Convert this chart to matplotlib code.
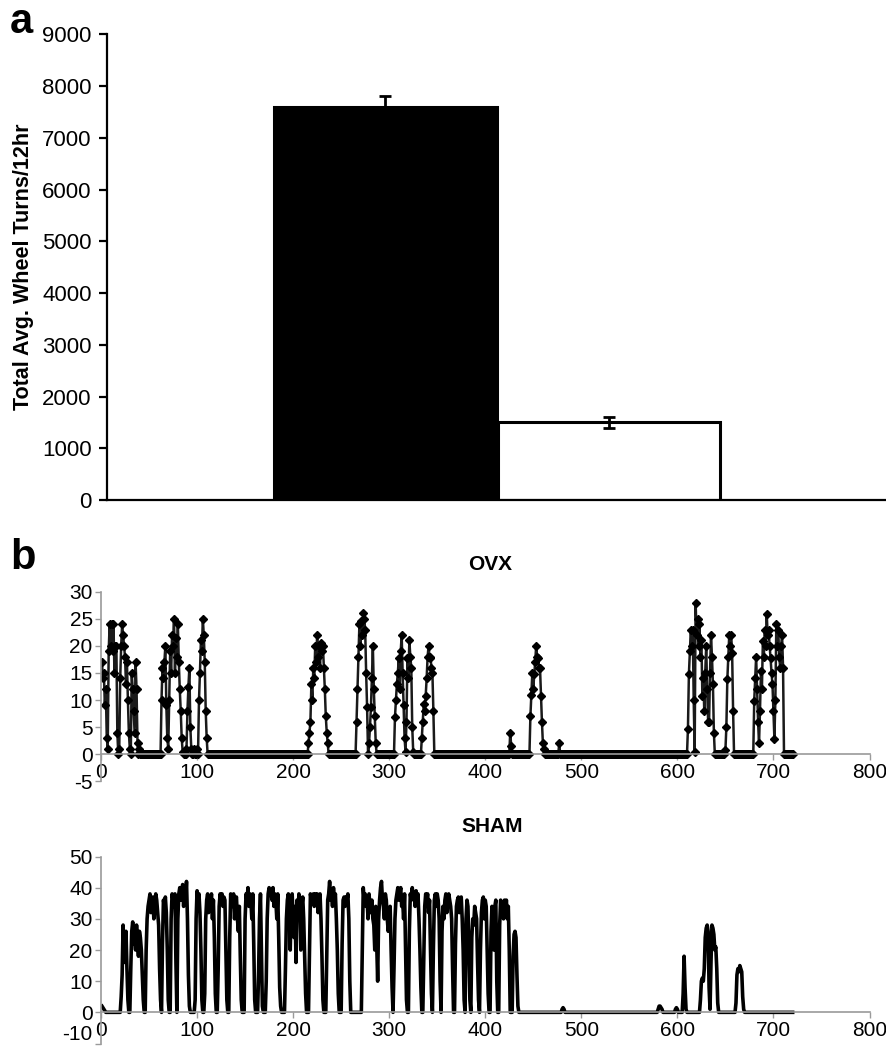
import matplotlib.pyplot as plt
import numpy as np

plt.rcParams['font.family'] = ['Liberation Sans', 'DejaVu Sans']
plt.rcParams['axes.unicode_minus'] = False

# ---- panel a: total wheel turns ----
groups = ['OVX', 'SHAM']
turns_mean = [7600, 1500]
turns_err = [210, 110]
bar_colors = ['black', 'white']

# ---- panel b: minute-by-minute wheel turns over 12 hr ----
minutes = np.arange(1, 721)

# OVX: active bursts (start minute, values per minute); all other minutes are 0
ovx_starts = [1, 63, 216, 265, 306, 334, 426, 447, 477, 611, 650, 680]
ovx_bursts = [
    [17, 14, 15, 9, 12, 3, 1, 19, 24, 20, 24, 19, 24, 15, 20, 20, 4, 0, 1, 14,
     20, 24, 22, 20, 18, 13, 17, 10, 4, 1, 0, 15, 12, 8, 4, 17, 12, 2, 0, 1],
    [10, 16, 14, 17, 20, 9, 3, 1, 10, 19, 15, 22, 20, 25, 15, 21.5, 18, 24, 17, 12,
     8, 3, 0.5, 0, 0, 0, 1, 8, 12.5, 16, 5, 1, 0, 0, 1, 0, 0, 1, 0, 10,
     15, 21, 19, 25, 22, 17, 8, 3],
    [2, 4, 6, 13, 10, 16, 14, 20, 17, 22, 18, 20, 16, 20.5, 19, 20, 16, 12, 7, 4, 2],
    [0, 6, 12, 18, 24, 20, 24.5, 22, 26, 25, 23, 15, 8.7, 0, 2, 5, 8.7, 14, 20, 12, 7, 2],
    [6.8, 10, 13, 15, 17.8, 12, 19, 22, 15, 9, 3, 0.5, 6, 17.8, 14, 21, 18, 16, 5, 0.5],
    [3, 6, 9.3, 8, 10.8, 14, 18, 20, 18, 17.8, 16, 15, 8],
    [4, 1.6],
    [7, 11, 15, 12, 14.8, 17, 20, 18, 17.8, 16, 16, 10.8, 6, 2, 1],
    [2],
    [4.7, 14.8, 19, 23, 20, 23, 10, 0.4, 28, 22, 25, 20, 24, 18, 21, 10.8, 14, 8, 15, 20,
     12, 6, 6, 15, 22, 18, 13, 4],
    [0.7, 5, 13.8, 18, 22, 20, 22, 18.7, 8],
    [9.9, 14, 18, 12, 6, 2, 8, 15.4, 12, 20.9, 18, 23, 20, 25.9, 22, 23, 20, 17.8, 15, 12.9,
     8, 2.9, 10, 24, 20, 23, 18, 16, 20, 22, 16],
]

# SHAM: active bursts (start minute, values per minute); all other minutes are 0
sham_starts = [1, 21, 31, 47, 64, 73, 80, 98, 108, 122, 134, 150, 164, 172, 192, 217,
               235, 251, 272, 289, 305, 321, 336, 346, 355, 369, 380, 386, 395, 406,
               415, 429, 480, 580, 598, 606, 624, 661]
sham_bursts = [
    [2, 1.5, 1, 0.5],
    [5, 12, 28, 16, 22, 26, 14, 4],
    [14, 26, 29, 22, 24, 20, 28, 22, 18, 26, 24, 20, 12, 4],
    [20, 30, 34, 36, 38, 32, 36, 37, 30, 34, 38, 36, 32, 28, 14, 4],
    [22, 36, 34, 37, 32, 20, 4],
    [30, 38, 36, 34, 38, 16],
    [30, 38, 40, 36, 38, 41, 34, 39, 36, 42, 30, 12, 2],
    [4, 30, 39, 36, 38, 32, 20, 4],
    [6, 30, 36, 38, 32, 36, 35, 38, 30, 36, 24, 6],
    [14, 34, 38, 36, 38, 34, 37, 36, 20, 4],
    [24, 38, 36, 34, 38, 30, 36, 37, 30, 26, 34, 18, 4],
    [30, 38, 36, 40, 34, 38, 36, 30, 38, 22, 4],
    [12, 30, 38, 20, 2],
    [10, 30, 38, 40, 38, 39, 36, 40, 34, 38, 36, 30, 38, 24, 8, 2],
    [14, 30, 36, 38, 34, 20, 36, 38, 30, 24, 34, 16, 36, 30, 38, 36, 20, 34, 37, 30, 18, 6],
    [20, 38, 36, 37, 38, 34, 38, 36, 38, 32, 36, 38, 30, 18, 4],
    [18, 36, 38, 42, 36, 38, 34, 40, 36, 38, 30, 20, 6],
    [22, 36, 37, 34, 37, 36, 38, 30, 10],
    [20, 40, 36, 38, 34, 36, 30, 38, 34, 32, 36, 30, 28, 20, 34, 22, 10],
    [30, 36, 40, 42, 36, 34, 30, 38, 36, 30, 26, 32, 34, 20, 8],
    [14, 30, 36, 38, 40, 36, 38, 40, 34, 36, 30, 38, 20, 4],
    [26, 38, 36, 40, 37, 38, 34, 39, 36, 38, 30, 20, 8],
    [18, 34, 38, 36, 38, 32, 36, 20, 6],
    [20, 36, 38, 34, 38, 36, 30, 10],
    [26, 34, 30, 36, 38, 32, 36, 38, 36, 34, 30, 14],
    [22, 34, 36, 37, 32, 36, 37, 30, 20, 4],
    [30, 36, 34, 20, 4],
    [24, 30, 28, 34, 32, 30, 16, 4],
    [20, 32, 36, 37, 30, 36, 34, 20, 6],
    [26, 34, 30, 20, 34, 36, 10],
    [28, 36, 34, 35, 30, 36, 33, 36, 30, 34, 20],
    [18, 25, 26, 24, 12, 2],
    [1, 1.5, 1],
    [1, 2, 2, 1.5, 1],
    [1, 1.5, 1],
    [6, 18, 8, 1],
    [4, 10, 11, 10, 14, 24, 27, 28, 26, 8, 1, 16, 28, 27, 25, 20, 21, 14, 3],
    [3, 12, 14, 13, 15, 14, 13, 5, 1],
]


def fill_series(starts, bursts):
    vals = np.zeros(len(minutes))
    for s, b in zip(starts, bursts):
        vals[s - 1:s - 1 + len(b)] = b
    return vals


ovx = fill_series(ovx_starts, ovx_bursts)
sham = fill_series(sham_starts, sham_bursts)

W, H = 886, 1050
fig = plt.figure(figsize=(W / 100, H / 100), dpi=100)


def px_axes(left, right, top, bottom):
    return fig.add_axes([left / W, 1 - bottom / H, (right - left) / W, (bottom - top) / H])


# ---- panel a ----
ax = px_axes(107, 886, 34.3, 500)
pos = [0.3575, 0.6445]
ax.bar(pos, turns_mean, width=0.286, color=bar_colors, edgecolor='black', linewidth=2.2,
       yerr=turns_err, capsize=4, error_kw=dict(ecolor='black', elinewidth=2, capthick=2))
ax.set_xlim(0, 1)
ax.set_ylim(0, 9000)
ax.set_yticks(range(0, 9001, 1000))
ax.set_xticks([])
for s in ['top', 'right']:
    ax.spines[s].set_visible(False)
ax.spines['left'].set_linewidth(1.6)
ax.spines['bottom'].set_linewidth(1.6)
ax.tick_params(axis='y', direction='out', length=6, width=1.6, labelsize=16, pad=5)
ax.set_ylabel('Total Avg. Wheel Turns/12hr', fontsize=15.5, fontweight='bold', labelpad=6)

fig.text(10 / W, 1 - 2 / H, 'a', fontsize=30, fontweight='bold', va='top', ha='left')
fig.text(10 / W, 1 - 558 / H, 'b', fontsize=30, fontweight='bold', va='center', ha='left')


def style_trace_axes(ax, ylim, yticks):
    ax.set_xlim(0, 800)
    ax.set_ylim(*ylim)
    ax.set_xticks(range(0, 801, 100))
    ax.set_yticks(yticks)
    for s in ['top', 'right']:
        ax.spines[s].set_visible(False)
    ax.spines['bottom'].set_position(('data', 0))
    for s in ['left', 'bottom']:
        ax.spines[s].set_color('#9a9a9a')
        ax.spines[s].set_linewidth(1.2)
    ax.tick_params(axis='both', direction='out', length=4, width=1, color='#9a9a9a',
                   labelsize=15, pad=2)
    ax.patch.set_alpha(0)


# ---- OVX trace ----
ax1 = px_axes(101, 869.5, 591.7, 781.3)
ax1.plot(minutes, ovx, color='#1a1a1a', lw=1.8, marker='D', ms=4.5, mfc='black', mec='black')
style_trace_axes(ax1, (-5, 30), range(-5, 31, 5))
fig.text(490 / W, 1 - 564 / H, 'OVX', fontsize=15, fontweight='bold', ha='center', va='center')

# ---- SHAM trace ----
ax2 = px_axes(101, 869.5, 856.5, 1043.5)
ax2.plot(minutes, sham, color='black', lw=2.6)
style_trace_axes(ax2, (-10, 50), range(-10, 51, 10))
ax2.get_yticklabels()[0].set_va('bottom')  # keep the -10 label inside the figure
fig.text(492 / W, 1 - 827 / H, 'SHAM', fontsize=15, fontweight='bold', ha='center', va='center')

fig.savefig('out.png', dpi=100)
